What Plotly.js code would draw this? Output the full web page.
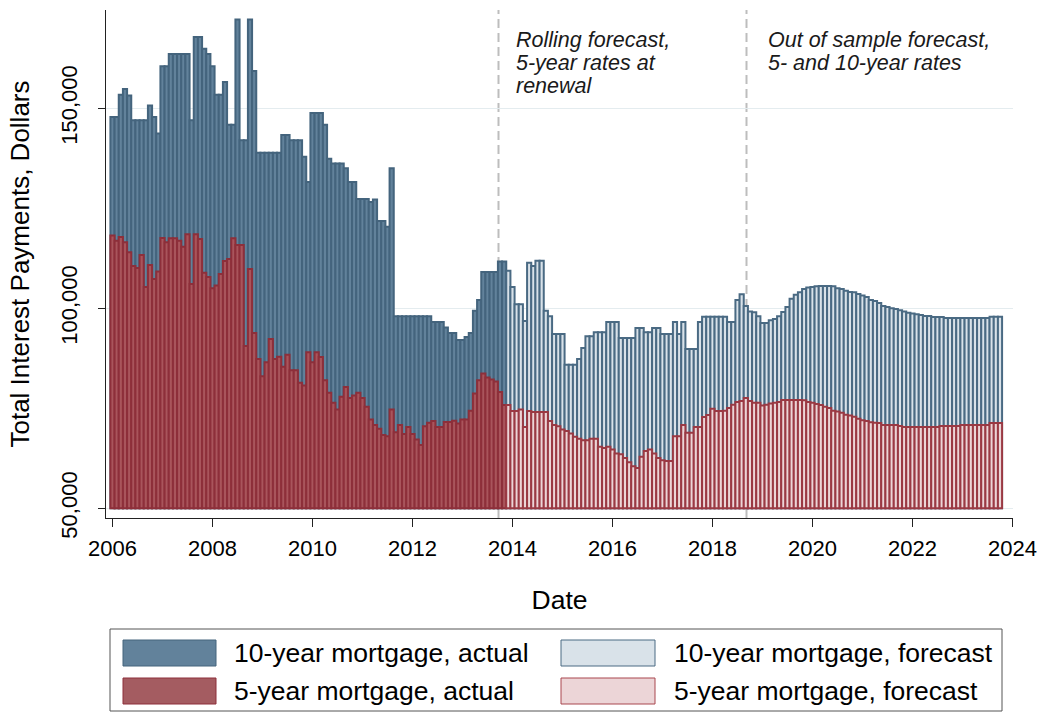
<!DOCTYPE html>
<html>
<head>
<meta charset="utf-8">
<script src="https://cdn.plot.ly/plotly-3.0.1.min.js"></script>
<style>
html,body{margin:0;padding:0;background:#ffffff;}
#chart{width:1043px;height:715px;}
</style>
</head>
<body>
<div id="chart"></div>
<script>
// ---------------- data (dollars, monthly) ----------------
const firstActualMonth = '2006-01';
const firstForecastMonth = '2013-12';

const tenYearActual = [
  147800,147800,153400,154800,153200,147000,147000,147000,147000,150700,147800,143700,
  160500,160500,163600,163600,163600,163600,163600,147000,167800,167800,164900,163600,
  160500,153400,153400,156600,145900,145900,172200,142000,142000,172200,159300,138900,
  138900,138900,138900,138900,138900,143300,143300,142000,142000,142000,137900,131600,
  148800,148800,148800,145900,137400,136200,136200,136200,135000,131600,131600,127300,
  127300,127300,126600,127200,121800,121800,120400,135000,98000,98000,98000,98000,
  98000,98000,98000,98000,98000,96600,96600,96600,95200,93800,93800,92100,
  92100,92800,93800,99400,102100,109100,109100,109100,109100,111700,111700
];

const fiveYearActual = [
  118200,116900,117800,116500,114000,110600,110100,113300,105300,110800,107300,109200,
  117600,116500,117500,117500,116900,115400,118500,106100,118500,117300,108900,107800,
  105000,105700,108600,111800,112300,117500,115800,115800,90600,109800,93800,87300,
  83000,86500,92300,87300,87900,85400,88400,84500,84500,81400,80700,89000,
  86500,89000,87800,82000,78900,76400,74700,77900,80300,77600,78200,78900,
  77600,75400,72200,70800,69900,68300,68000,74700,69000,70800,68600,70300,
  68600,67200,65800,70500,71400,71800,70300,70300,71600,71600,71900,71200,
  72200,72200,74400,78700,82000,83700,82700,82200,81700,79100,75800
];

const tenYearForecast = [
  109400,
  105300,101000,101000,96800,111400,110600,111900,111900,99400,98000,93600,93600,
  93600,85900,85900,85900,87300,90100,93000,93000,94000,94000,94000,96600,
  96600,96600,92600,92600,92600,92600,95100,95100,94000,94000,95100,95100,
  93600,93600,93600,96600,93600,96600,89800,89800,89800,96600,97900,97900,
  97900,97900,97900,97900,96600,96600,102100,103500,100600,99200,99000,98000,
  96300,96300,97000,97300,98000,99100,100300,102400,103400,104000,104800,105200,
  105300,105500,105600,105600,105600,105500,105000,104800,104400,104100,104000,103600,
  103200,102800,102100,101800,101300,100600,100300,100000,99800,99500,99200,98900,
  98700,98500,98300,98100,98100,97800,97800,97800,97600,97600,97600,97600,
  97600,97600,97600,97600,97600,97600,97600,97900,97900,97900
];

const fiveYearForecast = [
  75800,
  74300,74300,74700,70300,74300,74100,74100,74100,74100,71800,70800,70500,
  69700,69300,68700,67900,67400,67000,67000,67400,67400,65400,65100,65400,
  64700,63700,63500,62600,61500,60500,60100,62900,64300,64700,63700,62600,
  62000,61800,61800,68000,68000,70800,68900,68900,70300,70300,72800,73300,
  74900,74300,74300,74400,75100,75900,76600,76800,77600,76800,76400,76400,
  75700,75900,76200,76400,76600,77100,77100,77100,77100,77100,77000,76600,
  76400,76100,75800,75400,75100,74400,74200,73900,73400,73200,72900,72400,
  72000,71800,71500,71400,71300,70800,70800,70800,70800,70600,70300,70300,
  70300,70300,70300,70300,70300,70300,70300,70600,70600,70600,70600,70600,
  70800,70800,70800,70800,70800,70800,70800,71300,71300,71300
];

const seriesNames = ['10-year mortgage, actual','10-year mortgage, forecast','5-year mortgage, actual','5-year mortgage, forecast'];
const xTickYears = [2006,2008,2010,2012,2014,2016,2018,2020,2022,2024];
const yTickValues = [50000,100000,150000];
const yTickLabels = ['50,000','100,000','150,000'];
const periodBreaks = [2013.72, 2018.68];
const periodNotes = [
  ['Rolling forecast,','5-year rates at','renewal'],
  ['Out of sample forecast,','5- and 10-year rates']
];

// ---------------- helpers ----------------
const BASE = 50000;
function monthToYear(ym){ const p = ym.split('-'); return +p[0] + (+p[1]-1)/12; }
function monthSeries(start, n){ const s = monthToYear(start); const out=[]; for(let i=0;i<n;i++) out.push(s + i/12); return out; }

const xActual = monthSeries(firstActualMonth, tenYearActual.length);
const xForecast = monthSeries(firstForecastMonth, tenYearForecast.length);

const C = {
  blueFill:'#62829b', blueLine:'#44647d',
  redFill:'#a9555c', redLine:'#8d2f3a',
  blueFcFill:'#d9e2e9', blueFcLine:'#4a6a83',
  redFcFill:'#ecd5d7', redFcLine:'#9a3943'
};

function bars(name, xs, vals, fill, line, lw){
  return {type:'bar', name:name, x:xs, y:vals.map(v=>v-BASE), base:BASE,
    width:1/12, marker:{color:fill, line:{color:line, width:lw}},
    showlegend:false, hoverinfo:'skip'};
}

const traces = [
  bars(seriesNames[0], xActual, tenYearActual, C.blueFill, C.blueLine, 2),
  bars(seriesNames[1], xForecast, tenYearForecast, C.blueFcFill, C.blueFcLine, 2),
  bars(seriesNames[2], xActual, fiveYearActual, C.redFill, C.redLine, 2),
  bars(seriesNames[3], xForecast, fiveYearForecast, C.redFcFill, C.redFcLine, 2)
];

const FONT = 'Liberation Sans, Arial, Helvetica, sans-serif';

// plot area in px: x 106..1013, y 10..518
const PL=106, PR=1013, PT=10, PB=518;
const px = v => (v-PL)/(PR-PL);
const py = v => (PB-v)/(PB-PT);

const shapes = [];
periodBreaks.forEach(xb=>{
  shapes.push({type:'line', xref:'x', yref:'paper', x0:xb, x1:xb, y0:0, y1:1,
    line:{color:'#bdbdbd', width:2, dash:'9px,5px'}, layer:'between'});
});
// legend box
shapes.push({type:'rect', xref:'paper', yref:'paper', x0:px(110), x1:px(1002), y0:py(711), y1:py(629),
  line:{color:'#555555', width:1}, fillcolor:'rgba(0,0,0,0)'});
const swatches = [
  {x0:123,x1:216,y0:640,y1:666,f:C.blueFill,l:C.blueLine},
  {x0:561,x1:655,y0:640,y1:666,f:C.blueFcFill,l:C.blueFcLine},
  {x0:123,x1:216,y0:678,y1:704,f:'#a45c61',l:C.redLine},
  {x0:561,x1:655,y0:678,y1:704,f:C.redFcFill,l:'#a9464f'}
];
swatches.forEach(s=>{
  shapes.push({type:'rect', xref:'paper', yref:'paper', x0:px(s.x0), x1:px(s.x1), y0:py(s.y1), y1:py(s.y0),
    line:{color:s.l, width:1}, fillcolor:s.f});
});

const annotations = [];
const noteX = [2014.03, 2019.07];
const noteLineY = [40, 63, 86];
periodNotes.forEach((lines, i)=>{
  lines.forEach((t, j)=>{
    annotations.push({xref:'x', yref:'paper', x:noteX[i], y:py(noteLineY[j]), xanchor:'left', yanchor:'middle', align:'left',
      text:'<i>'+t+'</i>', showarrow:false, font:{family:FONT, size:21.5, color:'#1a1a1a'}});
  });
});
const legendText = [
  {x:232, y:653, t:seriesNames[0]},
  {x:672, y:653, t:seriesNames[1]},
  {x:232, y:691, t:seriesNames[2]},
  {x:672, y:691, t:seriesNames[3]}
];
legendText.forEach(L=>{
  annotations.push({xref:'paper', yref:'paper', x:px(L.x), y:py(L.y), xanchor:'left', yanchor:'middle',
    text:L.t, showarrow:false, font:{family:FONT, size:26.5, color:'#000000'}});
});

const layout = {
  width:1043, height:715,
  margin:{l:PL, r:1043-PR, t:PT, b:715-PB, pad:0},
  paper_bgcolor:'#ffffff', plot_bgcolor:'#ffffff',
  barmode:'overlay', bargap:0,
  font:{family:FONT, color:'#000000'},
  showlegend:false,
  xaxis:{
    range:[2005.87, 2024.01], tickmode:'array', tickvals:xTickYears, ticktext:xTickYears.map(String),
    showline:true, linecolor:'#222222', linewidth:1, ticks:'outside', ticklen:8, tickcolor:'#222222',
    showgrid:false, zeroline:false, tickfont:{size:22, family:FONT}, ticklabelstandoff:3,
    title:{text:'Date', font:{size:26.5, family:FONT}, standoff:30}, automargin:false
  },
  yaxis:{
    range:[47575, 174575], tickmode:'array', tickvals:yTickValues, ticktext:yTickLabels, tickangle:-90,
    showline:true, linecolor:'#222222', linewidth:1, ticks:'outside', ticklen:7, tickcolor:'#222222',
    showgrid:true, gridcolor:'#e4ecef', gridwidth:1.5, zeroline:false, tickfont:{size:22, family:FONT}, ticklabelstandoff:12,
    title:{text:'Total Interest Payments, Dollars', font:{size:26, family:FONT}, standoff:20}, automargin:false
  },
  shapes:shapes,
  annotations:annotations
};

Plotly.newPlot('chart', traces, layout, {displayModeBar:false, staticPlot:true});
</script>
</body>
</html>
